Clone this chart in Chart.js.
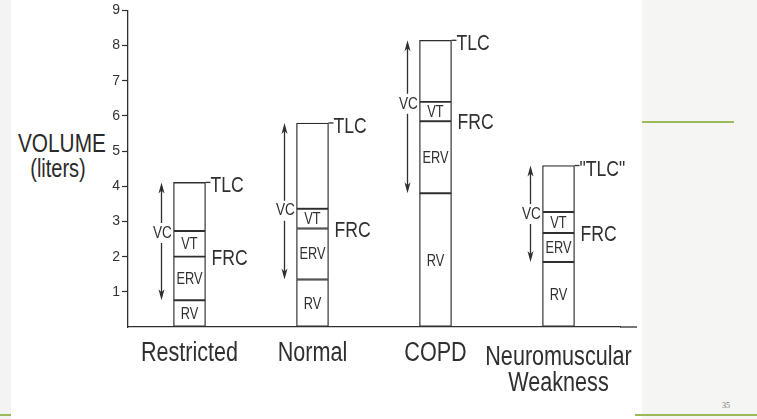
<!DOCTYPE html>
<html>
<head>
<meta charset="utf-8">
<title>Lung volumes</title>
<script src="https://cdn.jsdelivr.net/npm/chart.js@4.4.0/dist/chart.umd.min.js"></script>
<style>
  body { margin: 0; background: #fff; }
  #slide { position: relative; width: 757px; height: 419px; overflow: hidden; background: #fff; }
  #side { position: absolute; left: 642px; top: 0; width: 115px; height: 419px; background: #f5f5f3; }
  #edge { position: absolute; left: 0; top: 0; width: 11px; height: 419px; background: #f3f3f1; }
  .rule { position: absolute; height: 2px; background: #9bbb59; }
  #ytitle { position: absolute; left: 8px; top: 131px; width: 100px; text-align: center;
            font-family: 'Liberation Sans', Arial, sans-serif; color: #2a2a2a; line-height: 25px;
            transform: scaleX(0.8); transform-origin: 50px 0; }
  #ytitle .big { font-size: 26px; }
  #ytitle .small { font-size: 25px; }
  #page { position: absolute; left: 722px; top: 401px; font: 8px 'Liberation Serif', serif; color: #777; }
  #chart-box { position: absolute; left: 0; top: 0; width: 757px; height: 419px; }
</style>
</head>
<body>
<div id="slide">
  <div id="edge"></div>
  <div id="side"></div>
  <div class="rule" style="left:642px; top:121px; width:92px;"></div>
  <div class="rule" style="left:0; top:414px; width:11px;"></div>
  <div class="rule" style="left:635px; top:414px; width:122px;"></div>
  <div id="ytitle"><div class="big">VOLUME</div><div class="small">(liters)</div></div>
  <div id="page">35</div>
  <div id="chart-box"><canvas id="volumes"></canvas></div>
</div>
<script>
// --- Data (liters) ---
const categories = ['Restricted', 'Normal', 'COPD', ['Neuromuscular', 'Weakness']];
const rv  = [0.76, 1.35, 3.80, 1.85];   // residual volume
const erv = [1.24, 1.45, 2.05, 0.82];   // expiratory reserve
const vt  = [0.73, 0.56, 0.55, 0.60];   // tidal volume
const irv = [1.38, 2.44, 1.75, 1.32];   // inspiratory reserve (top, unlabeled)
const tlcLabels = ['TLC', 'TLC', 'TLC', '"TLC"'];
const yTicks = [0, 1, 2, 3, 4, 5, 6, 7, 8, 9];

// --- Look ---
const FONT = "'Liberation Sans', Arial, sans-serif";
const SQUEEZE = 0.8;   // the scan uses a condensed Helvetica
const INK = '#2f2f2f';
const BAR = 32;

function segment(label, values) {
  return {
    label: label,
    data: values,
    backgroundColor: '#ffffff',
    borderColor: INK,
    borderWidth: 1.3,
    borderSkipped: false,
    barThickness: BAR
  };
}

// condensed text: squeeze horizontally around the anchor point
function narrowText(ctx, text, x, y, size, align) {
  ctx.save();
  ctx.font = size + 'px ' + FONT;
  ctx.textAlign = align || 'left';
  ctx.textBaseline = 'middle';
  ctx.translate(x, y);
  ctx.scale(SQUEEZE, 1);
  ctx.fillText(text, 0, 0);
  ctx.restore();
}

function arrowHead(ctx, x, tipY, dir) {
  // dir = -1 points up, 1 points down
  ctx.beginPath();
  ctx.moveTo(x, tipY);
  ctx.lineTo(x - 3, tipY - dir * 11);
  ctx.lineTo(x, tipY - dir * 8);
  ctx.lineTo(x + 3, tipY - dir * 11);
  ctx.closePath();
  ctx.fill();
}

// labels, TLC / FRC marks and VC arrows, all placed through the scales
const annotations = {
  id: 'annotations',
  afterDatasetsDraw(chart) {
    const { ctx, chartArea } = chart;
    const x = chart.scales.x, y = chart.scales.y;
    ctx.save();
    ctx.strokeStyle = INK;
    ctx.fillStyle = INK;
    ctx.lineWidth = 1.3;

    // baseline in the scan runs a bit past the last bar
    ctx.beginPath();
    ctx.moveTo(chartArea.right, chartArea.bottom);
    ctx.lineTo(chartArea.right + 17, chartArea.bottom);
    ctx.stroke();

    categories.forEach((c, i) => {
      const cx = x.getPixelForValue(i);
      const left = cx - BAR / 2, right = cx + BAR / 2;
      const frc = rv[i] + erv[i];
      const tlc = frc + vt[i] + irv[i];
      const y0 = y.getPixelForValue(0);
      const yRv = y.getPixelForValue(rv[i]);
      const yFrc = y.getPixelForValue(frc);
      const yVt = y.getPixelForValue(frc + vt[i]);
      const yTlc = y.getPixelForValue(tlc);

      // names inside the stack
      narrowText(ctx, 'RV', cx, (y0 + yRv) / 2 + 1, 16, 'center');
      narrowText(ctx, 'ERV', cx, (yRv + yFrc) / 2 + 1, 16, 'center');
      narrowText(ctx, 'VT', cx, (yFrc + yVt) / 2 + 1, 16, 'center');

      // TLC tick + label
      ctx.beginPath();
      ctx.moveTo(right, yTlc);
      ctx.lineTo(right + 5, yTlc);
      ctx.stroke();
      narrowText(ctx, tlcLabels[i], right + 5, yTlc + 4, 22);

      // FRC label
      narrowText(ctx, 'FRC', right + 6, yFrc + 2, 22);

      // VC double arrow with label in a gap
      const ax = left - 12;
      const yVc = yVt + 2;
      ctx.beginPath();
      ctx.moveTo(ax, yTlc + 4);
      ctx.lineTo(ax, yVc - 10);
      ctx.moveTo(ax, yVc + 10);
      ctx.lineTo(ax, yRv - 4);
      ctx.stroke();
      arrowHead(ctx, ax, yTlc, -1);
      arrowHead(ctx, ax, yRv, 1);
      narrowText(ctx, 'VC', ax + 1, yVc, 17, 'center');

      // category name under the axis (two-line one sits a touch lower in the scan)
      const lines = Array.isArray(c) ? c : [c];
      const top = chartArea.bottom + (lines.length > 1 ? 31 : 27);
      lines.forEach((line, k) => {
        narrowText(ctx, line, cx, top + k * 26, 27, 'center');
      });
    });
    ctx.restore();
  }
};

const chart = new Chart(document.getElementById('volumes'), {
  type: 'bar',
  data: {
    labels: categories,
    datasets: [
      segment('RV', rv),
      segment('ERV', erv),
      segment('VT', vt),
      segment('IRV', irv)
    ]
  },
  options: {
    responsive: true,
    maintainAspectRatio: false,
    animation: false,
    events: [],
    layout: { padding: { top: 10, right: 137, bottom: 0, left: 0 } },
    plugins: {
      legend: { display: false },
      tooltip: { enabled: false }
    },
    scales: {
      x: {
        stacked: true,
        afterFit: (axis) => { axis.height = 92; },
        grid: { display: false },
        border: { display: true, color: INK, width: 1.3 },
        ticks: { display: false }
      },
      y: {
        stacked: true,
        min: 0,
        max: 9,
        afterFit: (axis) => { axis.width = 128; },
        afterBuildTicks: (axis) => { axis.ticks = yTicks.map(v => ({ value: v })); },
        grid: {
          drawOnChartArea: false,
          tickLength: 6,
          tickWidth: 1.2,
          tickColor: (ctx) => (ctx.tick && ctx.tick.value === 0 ? 'rgba(0,0,0,0)' : INK)
        },
        border: { display: true, color: INK, width: 1.3 },
        ticks: {
          color: '#333',
          padding: 2,
          font: { family: FONT, size: 14 },
          callback: (v) => (v === 0 ? '' : v)
        }
      }
    }
  },
  plugins: [annotations]
});
</script>
</body>
</html>
